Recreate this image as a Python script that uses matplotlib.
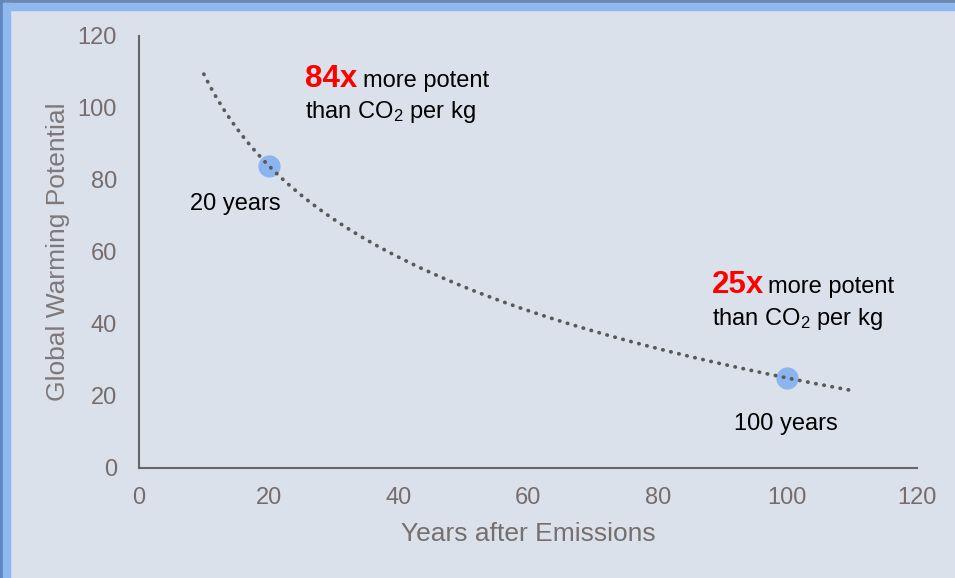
import numpy as np
import matplotlib
matplotlib.use("Agg")
from matplotlib import pyplot as plt
from matplotlib.patches import Rectangle

plt.rcParams['font.family'] = ['Liberation Sans', 'DejaVu Sans']
plt.rcParams['mathtext.default'] = 'regular'

# data points
years = [20, 100]
gwp = [84, 25]
trend_range = [10, 110]

x_ticks = [0, 20, 40, 60, 80, 100, 120]
y_ticks = [0, 20, 40, 60, 80, 100, 120]

W, H = 955, 578
fig = plt.figure(figsize=(W / 100, H / 100), dpi=100)
fig.patch.set_facecolor('#dae1ea')

# frame strips on top and left
fig.patches.append(Rectangle((0, 1 - 3 / H), 1, 3 / H, transform=fig.transFigure,
                             color='#6d86aa', zorder=0))
fig.patches.append(Rectangle((0, 1 - 10 / H), 1, 7 / H, transform=fig.transFigure,
                             color='#8db8f0', zorder=0))
fig.patches.append(Rectangle((0, 0), 3 / W, 1, transform=fig.transFigure,
                             color='#5f86bf', zorder=0))
fig.patches.append(Rectangle((3 / W, 0), 7 / W, 1 - 3 / H, transform=fig.transFigure,
                             color='#8db8f0', zorder=0))

ax = fig.add_axes([139 / W, 1 - 468 / H, (917 - 139) / W, (468 - 36) / H])
ax.set_facecolor('none')

# logarithmic trendline fitted to the two points
b, a = np.polyfit(np.log(years), gwp, 1)
tx = np.linspace(trend_range[0], trend_range[1], 200)
ty = a + b * np.log(tx)

ax.plot(years, gwp, 'o', color='#8cb5ef', markersize=15, zorder=2)
ax.plot(tx, ty, color='#595959', linewidth=2.7, linestyle=(0, (0.1, 2.1)),
        dash_capstyle='round', zorder=3)

ax.set_xlim(0, 120)
ax.set_ylim(0, 120)
ax.set_xticks(x_ticks)
ax.set_yticks(y_ticks)
ax.tick_params(length=0, labelsize=17, labelcolor='#766c6c')
ax.tick_params(axis='x', pad=14)
ax.tick_params(axis='y', pad=16)
for s in ['top', 'right']:
    ax.spines[s].set_visible(False)
for s in ['left', 'bottom']:
    ax.spines[s].set_color('#666666')
    ax.spines[s].set_linewidth(1.5)

ax.set_xlabel('Years after Emissions', fontsize=19, color='#776e6e', labelpad=9)
ax.set_ylabel('Global Warming Potential', fontsize=19, color='#807878', labelpad=5)

# annotations
ax.text(25.6, 105.9, '84x', color='#ff0000', fontsize=22.5, fontweight='bold', va='baseline')
ax.text(34.6, 105.9, 'more potent', color='black', fontsize=17, va='baseline')
ax.text(25.6, 97.3, 'than CO$_2$ per kg', color='black', fontsize=17, va='baseline')
ax.text(7.9, 71.7, '20 years', color='black', fontsize=17, va='baseline')

ax.text(88.4, 48.6, '25x', color='#ff0000', fontsize=22.5, fontweight='bold', va='baseline')
ax.text(97.0, 48.6, 'more potent', color='black', fontsize=17, va='baseline')
ax.text(88.4, 39.7, 'than CO$_2$ per kg', color='black', fontsize=17, va='baseline')
ax.text(91.8, 10.6, '100 years', color='black', fontsize=17, va='baseline')

fig.savefig('out.png', dpi=100, facecolor=fig.get_facecolor())
